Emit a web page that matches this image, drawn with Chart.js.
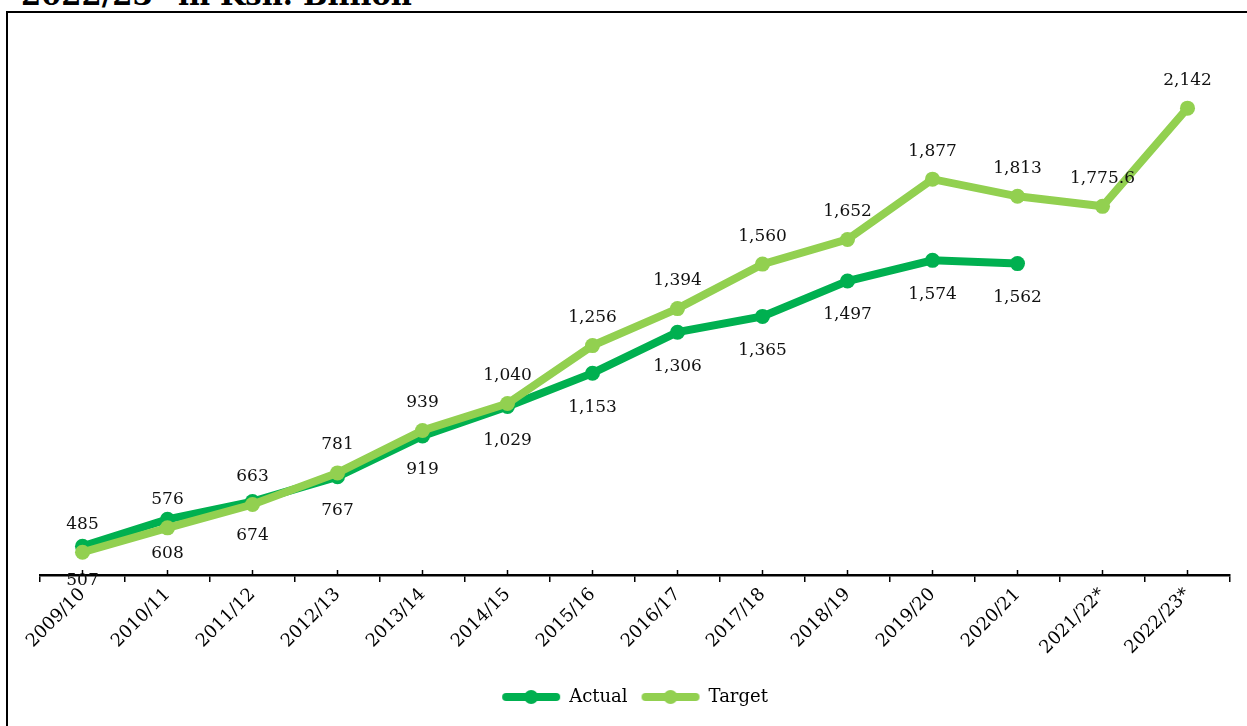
<!DOCTYPE html>
<html>
<head>
<meta charset="utf-8">
<script src="https://cdn.jsdelivr.net/npm/chart.js@4.4.0/dist/chart.umd.min.js"></script>
<style>
  html, body { margin: 0; padding: 0; background: #fff; overflow: hidden; }
  body { width: 1247px; height: 726px; position: relative; }
  #frame { position: absolute; left: 6px; top: 11px; width: 3000px; height: 3000px; border-left: 2px solid #000; border-top: 2px solid #000; }
  #title { position: absolute; left: 21px; top: -19px; font: bold 29px/29px "DejaVu Serif", serif; color: #000; white-space: nowrap; }
  #wrap { position: absolute; left: 0; top: 0; width: 1247px; height: 726px; }
</style>
</head>
<body>
<div id="title">2022/23* in Ksh. Billion</div>
<div id="frame"></div>
<div id="wrap"><canvas id="c" width="1247" height="726"></canvas></div>
<script>
const categories = ['2009/10','2010/11','2011/12','2012/13','2013/14','2014/15','2015/16','2016/17','2017/18','2018/19','2019/20','2020/21','2021/22*','2022/23*'];
const actualValues = [507, 608, 674, 767, 919, 1029, 1153, 1306, 1365, 1497, 1574, 1562, null, null];
const targetValues = [485, 576, 663, 781, 939, 1040, 1256, 1394, 1560, 1652, 1877, 1813, 1775.6, 2142];
const seriesNames = ['Actual', 'Target'];
const actualColor = '#00B050';
const targetColor = '#92D050';

function legendImage(color) {
  const cv = document.createElement('canvas');
  cv.width = 60; cv.height = 16;
  const g = cv.getContext('2d');
  g.strokeStyle = color; g.lineWidth = 8; g.lineCap = 'round';
  g.beginPath(); g.moveTo(5, 8); g.lineTo(55, 8); g.stroke();
  g.fillStyle = color;
  g.beginPath(); g.arc(30, 8, 7, 0, Math.PI * 2); g.fill();
  return cv;
}

const fmt = v => v.toLocaleString('en-US', {maximumFractionDigits: 1});

const labelPlugin = {
  id: 'valueLabels',
  afterDatasetsDraw(chart) {
    const ctx = chart.ctx;
    ctx.save();
    ctx.font = '17px "DejaVu Serif", serif';
    ctx.fillStyle = '#111';
    ctx.textAlign = 'center';
    ctx.textBaseline = 'middle';
    chart.data.datasets.forEach((ds, di) => {
      const meta = chart.getDatasetMeta(di);
      const off = ds.label === 'Target' ? -28 : 34;
      meta.data.forEach((pt, i) => {
        const v = ds.data[i];
        if (v === null || v === undefined) return;
        ctx.fillText(fmt(v), pt.x, pt.y + off);
      });
    });
    ctx.restore();
  },
  afterDraw(chart) {
    const xs = chart.scales.x;
    const ctx = chart.ctx;
    ctx.save();
    ctx.strokeStyle = '#000';
    ctx.lineWidth = 1.5;
    categories.forEach((c, i) => {
      const x = xs.getPixelForValue(i);
      ctx.beginPath(); ctx.moveTo(x, xs.top); ctx.lineTo(x, xs.top - 5); ctx.stroke();
    });
    ctx.restore();
  }
};

new Chart(document.getElementById('c'), {
  type: 'line',
  data: {
    labels: categories,
    datasets: [
      { label: seriesNames[0], data: actualValues, borderColor: actualColor, backgroundColor: actualColor,
        borderWidth: 8, pointRadius: 7.5, pointHoverRadius: 7.5, pointBorderWidth: 0, order: 1, tension: 0, spanGaps: false },
      { label: seriesNames[1], data: targetValues, borderColor: targetColor, backgroundColor: targetColor,
        borderWidth: 8, pointRadius: 7.5, pointHoverRadius: 7.5, pointBorderWidth: 0, order: 0, tension: 0 }
    ]
  },
  options: {
    responsive: false,
    animation: false,
    devicePixelRatio: 1,
    layout: { padding: { left: 40, right: 17, top: 39, bottom: 10 } },
    scales: {
      y: { display: false, min: 400, max: 2400 },
      x: {
        offset: true,
        grid: { offset: true, drawOnChartArea: false, drawTicks: true, tickLength: 7, color: '#000', lineWidth: 1.5 },
        border: { display: true, color: '#000', width: 2.5 },
        ticks: { minRotation: 45, maxRotation: 45, color: '#000', font: { family: '"DejaVu Serif", serif', size: 18 }, padding: 2 },
        afterFit(scale) { scale.height = 99; }
      }
    },
    plugins: {
      tooltip: { enabled: false },
      legend: {
        position: 'bottom',
        labels: {
          usePointStyle: true,
          pointStyleWidth: 58,
          padding: 14,
          color: '#000',
          font: { family: '"DejaVu Serif", serif', size: 18 },
          generateLabels() {
            return [
              { text: seriesNames[0], pointStyle: legendImage(actualColor), fillStyle: actualColor, strokeStyle: actualColor, lineWidth: 0, datasetIndex: 0, fontColor: '#000' },
              { text: seriesNames[1], pointStyle: legendImage(targetColor), fillStyle: targetColor, strokeStyle: targetColor, lineWidth: 0, datasetIndex: 1, fontColor: '#000' }
            ];
          }
        }
      }
    }
  },
  plugins: [labelPlugin]
});
</script>
</body>
</html>
